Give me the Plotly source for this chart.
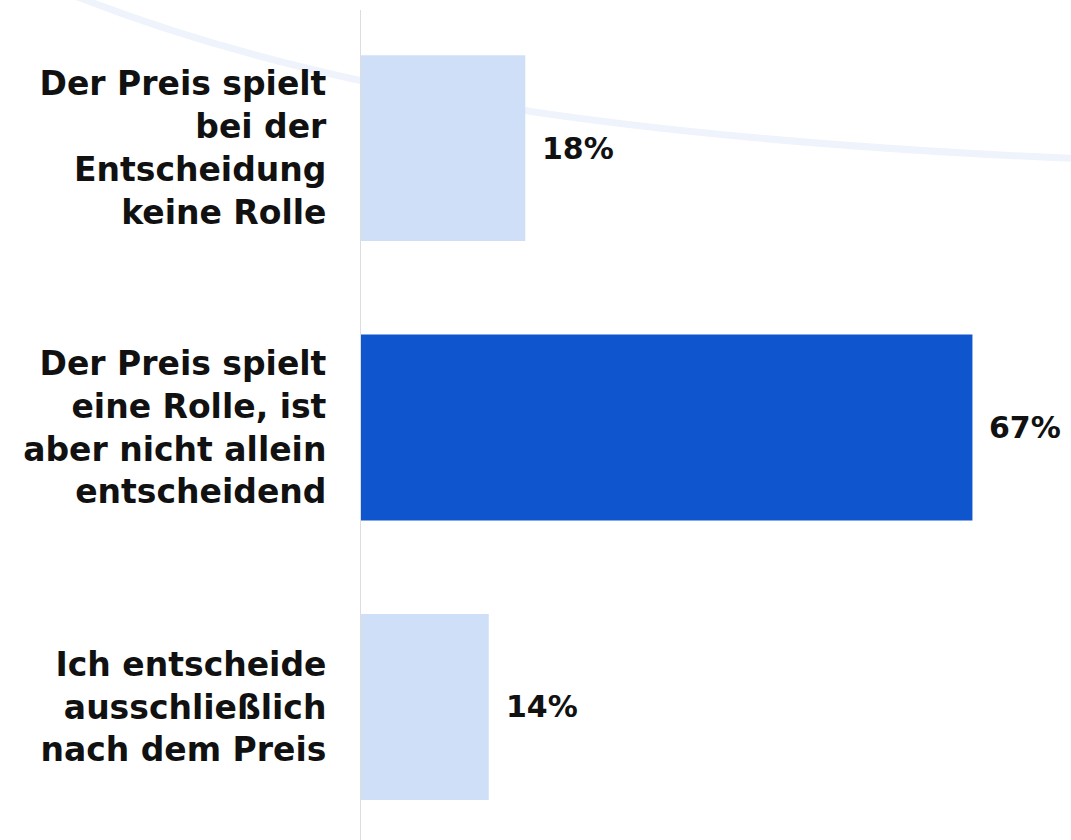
import plotly.graph_objects as go

categories = [
    "Der Preis spielt<br>bei der<br>Entscheidung<br>keine Rolle",
    "Der Preis spielt<br>eine Rolle, ist<br>aber nicht allein<br>entscheidend",
    "Ich entscheide<br>ausschließlich<br>nach dem Preis",
]
values = [18, 67, 14]
bar_colors = ["#cfdff8", "#0f55cd", "#cfdff8"]

W, H = 1071, 840
ML, MR, MT, MB = 361, 0, 10, 0
FONT = "DejaVu Sans"
FS = 33

fig = go.Figure()
fig.add_trace(go.Bar(
    x=values, y=categories, orientation="h",
    marker=dict(color=bar_colors, line=dict(width=0)),
    hoverinfo="skip", showlegend=False,
))

for v, c in zip(values, categories):
    fig.add_annotation(
        x=v, y=c, xref="x", yref="y", text=f"{v}%", showarrow=False,
        xanchor="left", yanchor="middle", xshift=15,
        font=dict(family=FONT, size=FS - 3, color="#111111", weight="bold"),
    )

# decorative background curve (pixel -> paper conversion)
pw, ph = W - ML - MR, H - MT - MB
def px(x):
    return (x - ML) / pw
def py(y):
    return (H - MB - y) / ph
pts = [(55, -12), (300, 88), (600, 140), (1110, 160)]
path = "M {:.4f},{:.4f} C {:.4f},{:.4f} {:.4f},{:.4f} {:.4f},{:.4f}".format(
    px(pts[0][0]), py(pts[0][1]), px(pts[1][0]), py(pts[1][1]),
    px(pts[2][0]), py(pts[2][1]), px(pts[3][0]), py(pts[3][1]))
fig.add_shape(type="path", path=path, xref="paper", yref="paper",
              line=dict(color="#eef3fc", width=7), layer="below")

fig.update_layout(
    width=W, height=H,
    margin=dict(l=ML, r=MR, t=MT, b=MB, pad=0),
    paper_bgcolor="white", plot_bgcolor="rgba(0,0,0,0)",
    bargap=0.335,
    font=dict(family=FONT, color="#111111"),
    xaxis=dict(range=[0, 77.8], visible=False, showgrid=False, zeroline=False),
    yaxis=dict(
        range=[2.476, -0.494], showgrid=False, zeroline=False,
        showline=True, linecolor="#dddddd", linewidth=1,
        ticks="", ticklabelstandoff=27,
        tickfont=dict(family=FONT, size=FS, color="#111111", weight="bold"),
    ),
)

fig.write_html("out.html", config={"displayModeBar": False},
               post_script="document.body.style.margin='0';")
